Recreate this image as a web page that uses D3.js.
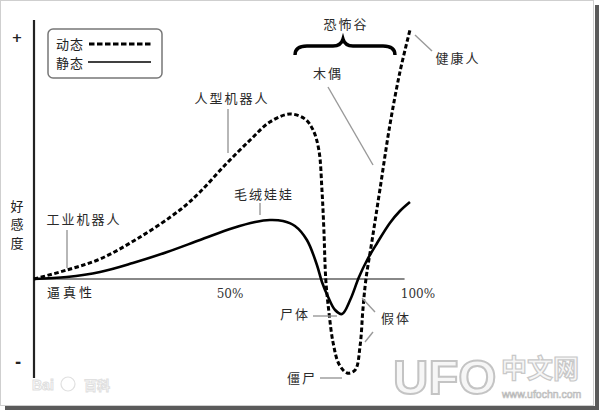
<!DOCTYPE html>
<html><head><meta charset="utf-8">
<script src="https://cdn.jsdelivr.net/npm/d3@7"></script>
<style>
html,body{margin:0;padding:0;background:#fff;}
svg{display:block;}
</style></head>
<body>
<script>
// ---- data (x: human likeness %, y: affinity, arbitrary units) ----
const seriesNames = ["动态", "静态"];
const movingX = [0, 8.5, 17.1, 27.5, 37.8, 43.0, 49.5, 56.0, 61.1, 66.3, 70.2, 72.3, 73.8, 74.6, 75.1, 75.6, 76.4, 77.5, 79.0, 81.1, 83.2, 84.5, 85.2, 86.0, 87.6, 89.6, 92.2, 94.8, 97.4];
const movingY = [0, 3.6, 8.0, 16.8, 27.6, 34.8, 45.6, 55.6, 62.8, 66.0, 64.0, 59.6, 51.6, 35.6, 19.6, -0.4, -13.2, -25.6, -34.0, -37.6, -36.4, -26.4, -12.4, 0, 15.6, 35.6, 61.6, 82.8, 99.6];
const stillX = [0, 8.5, 17.1, 25.6, 34.5, 43.0, 51.6, 57.3, 61.1, 64.5, 67.6, 70.7, 73.3, 74.6, 76.2, 78.0, 79.8, 81.9, 84.2, 86.3, 88.9, 92.2, 94.8, 97.4];
const stillY = [0, 0.8, 2.8, 6.4, 10.8, 15.6, 20.4, 22.8, 23.6, 23.2, 21.2, 15.6, 5.6, -1.2, -7.2, -12.4, -14.0, -8.4, 0.8, 7.6, 14.4, 22.4, 27.2, 30.8];
const xTickLabels = ["逼真性", "50%", "100%"];
const axisTitle = "好感度";

const W = 600, H = 412;
const svg = d3.select("body").append("svg").attr("width", W).attr("height", H);

// frame with shadow
svg.append("rect").attr("x", 595).attr("y", 5).attr("width", 4).attr("height", 405).attr("fill", "#5a5a5a");
svg.append("rect").attr("x", 5).attr("y", 406).attr("width", 594).attr("height", 4).attr("fill", "#5a5a5a");
svg.append("rect").attr("x", 0.5).attr("y", 0.5).attr("width", 593).attr("height", 405)
  .attr("fill", "#fff").attr("stroke", "#cfcfcf").attr("stroke-width", 1);

const x = d3.scaleLinear().domain([0, 100]).range([34, 420]);
const y = d3.scaleLinear().domain([-40, 100]).range([379, 29]);

const CJK = "'Noto Sans CJK SC', sans-serif";

// watermarks
const wm = svg.append("g");
wm.append("text").attr("x", 393).attr("y", 394).text("UFO")
  .attr("font-family", "Arial, 'Liberation Sans', sans-serif").attr("font-size", 49)
  .attr("font-weight", "bold").attr("fill", "#f6f6f6").attr("stroke", "#c4c4c4").attr("stroke-width", 2);
wm.append("text").attr("x", 501).attr("y", 378).text("中文网")
  .attr("font-family", CJK).attr("font-size", 26).attr("font-weight", "bold")
  .attr("fill", "#f6f6f6").attr("stroke", "#c8c8c8").attr("stroke-width", 1.2);
wm.append("text").attr("x", 502).attr("y", 398).text("www.ufochn.com")
  .attr("font-family", "'Liberation Sans', sans-serif").attr("font-size", 10.5)
  .attr("fill", "#fff").attr("stroke", "#bbb").attr("stroke-width", 0.7);
wm.append("text").attr("x", 32).attr("y", 390).text("Bai")
  .attr("font-family", "'Liberation Sans', sans-serif").attr("font-size", 14).attr("font-weight", "bold")
  .attr("fill", "#fff").attr("stroke", "#e0e0e0").attr("stroke-width", 1);
wm.append("text").attr("x", 84).attr("y", 390).text("百科")
  .attr("font-family", CJK).attr("font-size", 13).attr("font-weight", "bold")
  .attr("fill", "#fff").attr("stroke", "#e0e0e0").attr("stroke-width", 1);
wm.append("circle").attr("cx", 68).attr("cy", 384).attr("r", 7).attr("fill", "none").attr("stroke", "#e0e0e0").attr("stroke-width", 1.2);

// axes
svg.append("line").attr("x1", x(0)).attr("x2", x(96)).attr("y1", y(0)).attr("y2", y(0))
  .attr("stroke", "#888").attr("stroke-width", 2);
svg.append("line").attr("x1", x(0)).attr("x2", x(0)).attr("y1", 20).attr("y2", 378)
  .attr("stroke", "#222").attr("stroke-width", 2.2);

const txt = (t, cx, cy, opt = {}) => svg.append("text").attr("x", cx).attr("y", cy).text(t)
  .attr("text-anchor", opt.anchor || "middle").attr("dominant-baseline", "central")
  .attr("font-family", opt.font || CJK).attr("font-size", opt.size || 13)
  .attr("letter-spacing", opt.ls == null ? 2 : opt.ls)
  .attr("fill", opt.fill || "#222").attr("font-weight", opt.weight || "normal");

txt("+", 17, 37, {font: "'DejaVu Sans', sans-serif", size: 13, ls: 0, weight: "bold"});
txt("-", 18, 362, {font: "'DejaVu Sans', sans-serif", size: 15, ls: 0, weight: "bold"});
axisTitle.split("").forEach((c, i) => txt(c, 17, 205 + i * 18.5, {ls: 0}));

txt(xTickLabels[0], 71, 291, {ls: 3});
txt(xTickLabels[1], x(50) + 3, 294, {font: "'DejaVu Serif', serif", size: 12, ls: 0, fill: "#333"});
txt(xTickLabels[2], x(100) - 2, 294, {font: "'DejaVu Serif', serif", size: 12, ls: 0, fill: "#333"});

// curves
const line = d3.line().x(d => x(d[0])).y(d => y(d[1])).curve(d3.curveCatmullRom.alpha(0.5));
const moving = movingX.map((v, i) => [v, movingY[i]]);
const still = stillX.map((v, i) => [v, stillY[i]]);
svg.append("path").attr("d", line(still)).attr("fill", "none").attr("stroke", "#000").attr("stroke-width", 2.6);
svg.append("path").attr("d", line(moving)).attr("fill", "none").attr("stroke", "#000")
  .attr("stroke-width", 3).attr("stroke-dasharray", "4.5,2.5");

// legend
svg.append("rect").attr("x", 48).attr("y", 29).attr("width", 114).attr("height", 49).attr("rx", 5)
  .attr("fill", "#fff").attr("stroke", "#777").attr("stroke-width", 1.5);
txt(seriesNames[0], 56, 43, {anchor: "start", ls: 1});
txt(seriesNames[1], 56, 62, {anchor: "start", ls: 1});
svg.append("line").attr("x1", 89).attr("x2", 151).attr("y1", 44).attr("y2", 44)
  .attr("stroke", "#000").attr("stroke-width", 3).attr("stroke-dasharray", "5.5,2.5");
svg.append("line").attr("x1", 88).attr("x2", 151).attr("y1", 62).attr("y2", 62)
  .attr("stroke", "#000").attr("stroke-width", 1.6);

// brace
svg.append("path").attr("d", "M295,55 Q295,46 307,46 L333,46 Q341,46 343,39 Q345,46 353,46 L383,46 Q395,46 395,55")
  .attr("fill", "none").attr("stroke", "#000").attr("stroke-width", 3.4);

// annotations
const ann = [
  {t: "恐怖谷", x: 346, y: 23},
  {t: "木偶", x: 328, y: 72},
  {t: "健康人", x: 458, y: 57},
  {t: "人型机器人", x: 232, y: 97},
  {t: "毛绒娃娃", x: 264, y: 193},
  {t: "工业机器人", x: 84, y: 218},
  {t: "尸体", x: 295, y: 313},
  {t: "假体", x: 396, y: 317},
  {t: "僵尸", x: 302, y: 377}
];
ann.forEach(a => txt(a.t, a.x, a.y, {fill: "#2a2a2a"}));
const pointers = [
  [67, 230, 67, 268], [228, 109, 228, 153], [260, 203, 260, 215], [328, 87, 373, 165],
  [415, 35, 432, 51], [313, 316, 337, 316], [362, 298, 375, 312], [373, 332, 365, 342], [320, 378, 342, 378]
];
pointers.forEach(p => svg.append("line").attr("x1", p[0]).attr("y1", p[1]).attr("x2", p[2]).attr("y2", p[3])
  .attr("stroke", "#999").attr("stroke-width", 1.4));
</script>
</body></html>
